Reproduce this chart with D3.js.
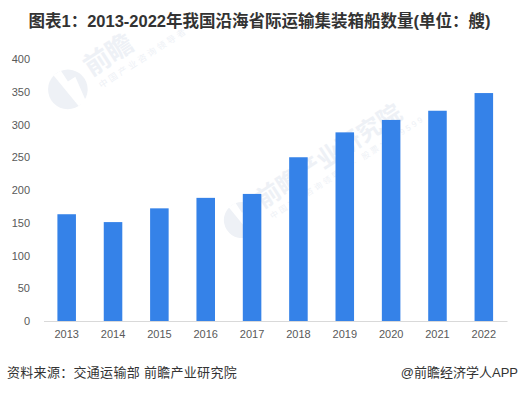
<!DOCTYPE html>
<html>
<head>
<meta charset="utf-8">
<script src="https://cdn.jsdelivr.net/npm/d3@7"></script>
<style>
    html, body { margin: 0; padding: 0; background: #fff; }
    svg { display: block; }
    text { font-family: "Liberation Sans", "Noto Sans CJK SC", sans-serif; }
</style>
</head>
<body>
<div class="container"></div>
<script>
const years = ['2013', '2014', '2015', '2016', '2017', '2018', '2019', '2020', '2021', '2022']
const ships = [163, 151, 172, 188, 194, 250, 288, 307, 321, 348]
const yTicks = [0, 50, 100, 150, 200, 250, 300, 350, 400]
const titleText = '图表1：2013-2022年我国沿海省际运输集装箱船数量(单位：艘)'
const sourceText = '资料来源：交通运输部 前瞻产业研究院'
const creditText = '@前瞻经济学人APP'

// Size of plot
const width = 518
const height = 393
const margin = {"top": 59, "right": 11, "bottom": 72, "left": 43.5}

const svg = d3.select(".container")
    .append("svg")
    .attr("width", width)
    .attr("height", height)

const x = d3.scaleBand()
    .domain(years)
    .range([margin.left, width - margin.right])
    .paddingInner(0.6)
    .paddingOuter(0.3)

const y = d3.scaleLinear()
    .domain([0, 400])
    .range([height - margin.bottom, margin.top])

// Watermarks go under the bars
function watermark(tx, ty, scale, big, small) {
    const g = svg.append('g')
        .attr('transform', `translate(${tx}, ${ty}) rotate(-33) scale(${scale})`)
    g.append('circle')
        .attr('cx', -24).attr('cy', 0).attr('r', 18)
        .style('fill', '#eef1f6')
    g.append('path')
        .attr('d', 'M-28,-18 L-20,-18 L-20,-6 L-12,-6 L-16,18 L-24,18 Z')
        .style('fill', '#fff')
    g.append('text')
        .attr('x', 0).attr('y', 2)
        .style('font-size', '24px')
        .style('font-weight', 'bold')
        .style('fill', '#eef1f6')
        .text(big)
    g.append('text')
        .attr('x', 2).attr('y', 16)
        .style('font-size', '8px')
        .style('letter-spacing', '2.5px')
        .style('fill', '#eef1f6')
        .text(small)
}
watermark(90, 75, 1.1, '前瞻', '中国产业咨询领导者')
watermark(262, 207, 1, '前瞻产业研究院', '中国产业咨询领导者 · 股票：839599')

// Bars
svg.selectAll('.bar')
    .data(ships)
    .enter()
    .append('rect')
    .attr('class', 'bar')
    .attr('x', (d, i) => x(years[i]))
    .attr('y', d => y(d))
    .attr('width', x.bandwidth())
    .attr('height', d => y(0) - y(d))
    .style('fill', '#3582e8')

// Axes
const xAxis = svg.append('g')
    .attr('transform', `translate(0, ${y(0)})`)
    .call(d3.axisBottom(x).tickSize(0).tickPadding(9))
xAxis.select('.domain').style('stroke', '#d9d9d9')
xAxis.selectAll('text')
    .style('font-size', '11px')
    .style('fill', '#595959')

const yAxis = svg.append('g')
    .attr('transform', `translate(${margin.left}, 0)`)
    .call(d3.axisLeft(y).tickValues(yTicks).tickSize(0).tickPadding(13.5))
yAxis.select('.domain').remove()
yAxis.selectAll('text')
    .style('font-size', '11px')
    .style('fill', '#595959')

// Title and footer
svg.append('text')
    .attr('x', width / 2 + 0.5)
    .attr('y', 27)
    .attr('text-anchor', 'middle')
    .style('font-size', '16.5px')
    .style('font-weight', 'bold')
    .style('fill', '#333')
    .text(titleText)

svg.append('text')
    .attr('x', 7)
    .attr('y', 377)
    .style('font-size', '13px')
    .style('letter-spacing', '0.3px')
    .style('fill', '#333')
    .text(sourceText)

svg.append('text')
    .attr('x', 518)
    .attr('y', 377)
    .attr('text-anchor', 'end')
    .style('font-size', '13px')
    .style('fill', '#333')
    .text(creditText)
</script>
</body>
</html>
